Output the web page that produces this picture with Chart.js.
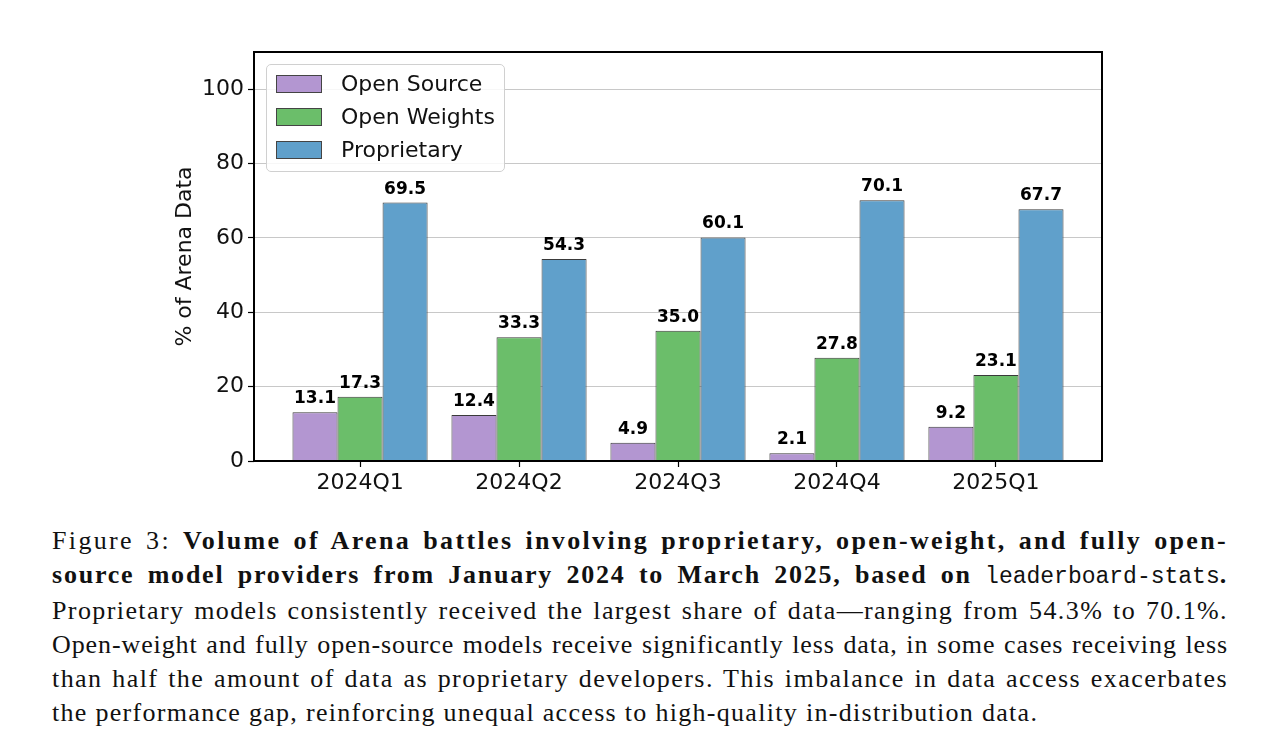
<!DOCTYPE html>
<html>
<head>
<meta charset="utf-8">
<script src="https://cdn.jsdelivr.net/npm/chart.js@4.4.0/dist/chart.umd.min.js"></script>
<style>
  html, body { margin: 0; padding: 0; background: #fff; }
  body { width: 1280px; height: 755px; position: relative; overflow: hidden; }
  #chart-wrap { position: absolute; left: 0; top: 0; width: 1280px; height: 510px; }
  #legend {
    position: absolute; left: 266px; top: 64px; width: 237px; height: 104px;
    border: 1px solid #d0d0d0; border-radius: 5px; background: rgba(255,255,255,0.85);
    font-family: "DejaVu Sans", sans-serif; font-size: 22px; color: #111;
    padding-top: 2px; box-sizing: content-box;
  }
  .legend-row { height: 33px; display: flex; align-items: center; }
  .legend-swatch { width: 44px; height: 16px; margin-left: 9px; margin-right: 19px; border: 1px solid #444; }
  #caption {
    position: absolute; left: 52px; top: 524px; width: 1176px;
    font-family: "Liberation Serif", "Times New Roman", serif; font-size: 26px; line-height: 34px; color: #111;
  }
  .cap-line { text-align: justify; text-align-last: justify; white-space: nowrap; }
  .cap-line.last { text-align-last: left; }
  .mono { font-family: "Liberation Mono", "DejaVu Sans Mono", monospace; font-weight: normal; font-size: 23px; letter-spacing: 0 !important; }
</style>
</head>
<body>
<div id="chart-wrap"><canvas id="chart"></canvas></div>
<div id="legend"></div>
<div id="caption">
  <div class="cap-line" data-w="1176">Figure 3: <b>Volume of Arena battles involving proprietary, open-weight, and fully open-</b></div>
  <div class="cap-line" data-w="1176"><b>source model providers from January 2024 to March 2025, based on <span class="mono">leaderboard-stats</span>.</b></div>
  <div class="cap-line" data-w="1176">Proprietary models consistently received the largest share of data—ranging from 54.3% to 70.1%.</div>
  <div class="cap-line" data-w="1176">Open-weight and fully open-source models receive significantly less data, in some cases receiving less</div>
  <div class="cap-line" data-w="1176">than half the amount of data as proprietary developers. This imbalance in data access exacerbates</div>
  <div class="cap-line last" data-w="1006">the performance gap, reinforcing unequal access to high-quality in-distribution data.</div>
</div>
<script>
// quarters on the x axis
const quarters = ['2024Q1', '2024Q2', '2024Q3', '2024Q4', '2025Q1'];

// share of arena data (%) per provider type
const openSource = [13.1, 12.4, 4.9, 2.1, 9.2];
const openWeights = [17.3, 33.3, 35.0, 27.8, 23.1];
const proprietary = [69.5, 54.3, 60.1, 70.1, 67.7];

const seriesNames = ['Open Source', 'Open Weights', 'Proprietary'];
const seriesColors = ['#b396d1', '#6bbe6a', '#60a0cb'];

const yTicks = [0, 20, 40, 60, 80, 100];

const tickFont = { family: 'DejaVu Sans', size: 22 };

// plot frame (matplotlib style box round the axes)
const framePlugin = {
  id: 'frame',
  afterDraw(chart) {
    const { ctx, chartArea: a } = chart;
    ctx.save();
    ctx.strokeStyle = '#000';
    ctx.lineWidth = 2;
    ctx.strokeRect(a.left, a.top, a.right - a.left, a.bottom - a.top);
    ctx.restore();
  }
};

// value labels above each bar
const valueLabels = {
  id: 'valueLabels',
  afterDatasetsDraw(chart) {
    const ctx = chart.ctx;
    ctx.save();
    ctx.font = 'bold 17px "DejaVu Sans"';
    ctx.fillStyle = '#000';
    ctx.textAlign = 'center';
    ctx.textBaseline = 'bottom';
    chart.data.datasets.forEach((ds, i) => {
      const meta = chart.getDatasetMeta(i);
      meta.data.forEach((bar, j) => {
        ctx.fillText(ds.data[j].y.toFixed(1), bar.x, bar.y - 5);
      });
    });
    ctx.restore();
  }
};

const allSeries = [openSource, openWeights, proprietary];

const chart = new Chart(document.getElementById('chart'), {
  type: 'bar',
  data: {
    datasets: allSeries.map((vals, i) => ({
      label: seriesNames[i],
      data: vals.map((v, j) => ({ x: j, y: v })),
      backgroundColor: seriesColors[i],
      borderColor: '#3a3a3a',
      borderWidth: 1,
      categoryPercentage: 0.85,
      barPercentage: 1.0
    }))
  },
  options: {
    responsive: true,
    maintainAspectRatio: false,
    animation: false,
    layout: { padding: { left: 170, right: 178, top: 52, bottom: 0 } },
    scales: {
      x: {
        type: 'linear',
        min: -0.667,
        max: 4.667,
        offset: false,
        afterBuildTicks: axis => { axis.ticks = quarters.map((_, i) => ({ value: i })); },
        afterFit: scale => { scale.height = 49; },
        ticks: {
          color: '#111',
          font: tickFont,
          padding: 3,
          maxRotation: 0,
          callback: v => quarters[v] ?? ''
        },
        grid: { offset: false, drawOnChartArea: false, tickColor: '#000', tickLength: 6, tickWidth: 1.2 },
        border: { display: false }
      },
      y: {
        min: 0,
        max: 110,
        afterBuildTicks: axis => { axis.ticks = yTicks.map(v => ({ value: v })); },
        afterFit: scale => { scale.width = 84; },
        title: {
          display: true,
          text: '% of Arena Data',
          color: '#111',
          font: { family: 'DejaVu Sans', size: 22 },
          padding: { top: 2, bottom: 0 }
        },
        ticks: { color: '#111', font: tickFont, padding: 4 },
        grid: {
          color: '#c8c8c8',
          lineWidth: 1,
          borderDash: [3, 2],
          tickColor: '#000',
          tickBorderDash: [],
          tickLength: 6,
          tickWidth: 1.2
        },
        border: { display: false }
      }
    },
    plugins: {
      legend: { display: false },
      tooltip: { enabled: false }
    }
  },
  plugins: [framePlugin, valueLabels]
});

// html legend inside the plot, built from the series lists
document.getElementById('legend').innerHTML = seriesNames.map((name, i) => `
  <div class="legend-row">
    <span class="legend-swatch" style="background:${seriesColors[i]}"></span>
    <span>${name}</span>
  </div>`).join('');

// spread caption lines with letter spacing so they fill like the typeset original
document.querySelectorAll('.cap-line').forEach(line => {
  const target = +line.dataset.w;
  const probe = document.createElement('span');
  probe.innerHTML = line.innerHTML;
  probe.style.whiteSpace = 'nowrap';
  probe.style.visibility = 'hidden';
  probe.style.position = 'absolute';
  line.appendChild(probe);
  const w = probe.getBoundingClientRect().width;
  const chars = probe.textContent.length;
  line.removeChild(probe);
  const ls = Math.max(0, (target - w) / chars * 0.85);
  line.style.letterSpacing = ls.toFixed(2) + 'px';
});
</script>
</body>
</html>
